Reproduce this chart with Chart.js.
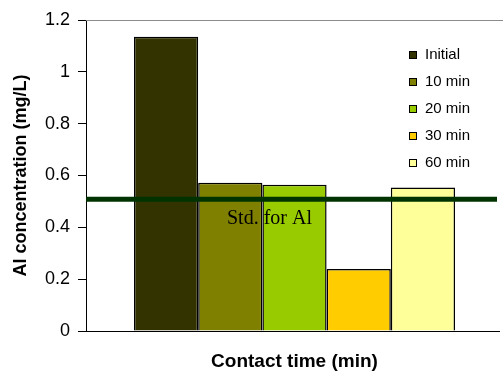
<!DOCTYPE html>
<html>
<head>
<meta charset="utf-8">
<style>
  html, body { margin: 0; padding: 0; background: #fff; }
  #wrap { width: 503px; height: 376px; overflow: hidden; }
</style>
</head>
<body>
<div id="wrap"><canvas id="chart"></canvas></div>
<script src="https://cdn.jsdelivr.net/npm/chart.js"></script>
<script>
// data
const categories = [ '' ]
const seriesNames = [ 'Initial', '10 min', '20 min', '30 min', '60 min' ]
const alValues = [ 1.135, 0.572, 0.564, 0.239, 0.554 ]
const barColors = [ '#333300', '#808000', '#99cc00', '#ffcc00', '#ffff99' ]
const stdValue = 0.508
const stdLabel = 'Std. for Al'
const yMin = 0
const yMax = 1.2
const yStep = 0.2

const sans = '"Liberation Sans", Arial, sans-serif'

// standard line + its label
const stdLine = {
  id: 'stdLine',
  afterDatasetsDraw( chart ) {
    const { ctx, chartArea, scales } = chart
    const y = scales.y.getPixelForValue( stdValue )
    ctx.save()
    ctx.strokeStyle = '#003300'
    ctx.lineWidth = 5
    ctx.beginPath()
    ctx.moveTo( chartArea.left, y )
    ctx.lineTo( 497, y )
    ctx.stroke()
    ctx.fillStyle = '#000'
    ctx.font = '20px "Liberation Serif", "Times New Roman", serif'
    ctx.textAlign = 'left'
    ctx.textBaseline = 'alphabetic'
    ctx.fillText( stdLabel, 227, y + 25 )
    ctx.restore()
  }
}

// frame lines + legend inside the plot
const frameAndLegend = {
  id: 'frameAndLegend',
  afterDraw( chart ) {
    const { ctx, chartArea } = chart
    ctx.save()
    ctx.lineWidth = 1
    ctx.strokeStyle = '#8c8c8c'
    ctx.beginPath()
    ctx.moveTo( chartArea.left, chartArea.top + 0.5 )
    ctx.lineTo( 503, chartArea.top + 0.5 )
    ctx.stroke()
    ctx.strokeStyle = '#000'
    ctx.beginPath()
    ctx.moveTo( chartArea.left, Math.round( chartArea.bottom ) + 0.5 )
    ctx.lineTo( 500, Math.round( chartArea.bottom ) + 0.5 )
    ctx.stroke()

    ctx.font = '15px ' + sans
    ctx.textBaseline = 'middle'
    ctx.textAlign = 'left'
    chart.data.datasets.forEach( ( ds, i ) => {
      const cy = 55 + i * 27
      ctx.fillStyle = ds.backgroundColor
      ctx.fillRect( 409, cy - 4, 8, 8 )
      ctx.strokeStyle = '#000'
      ctx.strokeRect( 409.5, cy - 3.5, 7, 7 )
      ctx.fillStyle = '#000'
      ctx.fillText( ds.label, 425, cy )
    } )
    ctx.restore()
  }
}

new Chart( document.getElementById( 'chart' ), {
  type: 'bar',
  data: {
    labels: categories,
    datasets: seriesNames.map( ( name, i ) => ( {
      label: name,
      data: [ alValues[ i ] ],
      backgroundColor: barColors[ i ],
      borderColor: '#000',
      borderWidth: 1.5,
      categoryPercentage: 0.77,
      barPercentage: 1
    } ) )
  },
  options: {
    responsive: true,
    maintainAspectRatio: false,
    animation: false,
    layout: { padding: { left: 10, right: -4, top: 20, bottom: 3 } },
    plugins: {
      legend: { display: false },
      tooltip: { enabled: false }
    },
    scales: {
      x: {
        ticks: { display: false },
        grid: { display: false },
        border: { display: false },
        title: {
          display: true,
          text: 'Contact time (min)',
          color: '#000',
          font: { family: sans, size: 19, weight: 'bold' },
          padding: 0
        },
        afterFit( scale ) { scale.height = 42 }
      },
      y: {
        min: yMin,
        max: yMax,
        ticks: {
          stepSize: yStep,
          color: '#000',
          padding: 8,
          font: { family: sans, size: 18 },
          callback: v => String( +v.toFixed( 1 ) )
        },
        grid: {
          drawOnChartArea: false,
          drawTicks: true,
          tickLength: 8,
          color: '#000'
        },
        border: { display: true, color: '#000', width: 1 },
        title: {
          display: true,
          text: 'Al concentration (mg/L)',
          color: '#000',
          font: { family: sans, size: 18, weight: 'bold' },
          padding: 0
        },
        afterFit( scale ) { scale.width = 76 }
      }
    }
  },
  plugins: [ stdLine, frameAndLegend ]
} )
</script>
</body>
</html>
